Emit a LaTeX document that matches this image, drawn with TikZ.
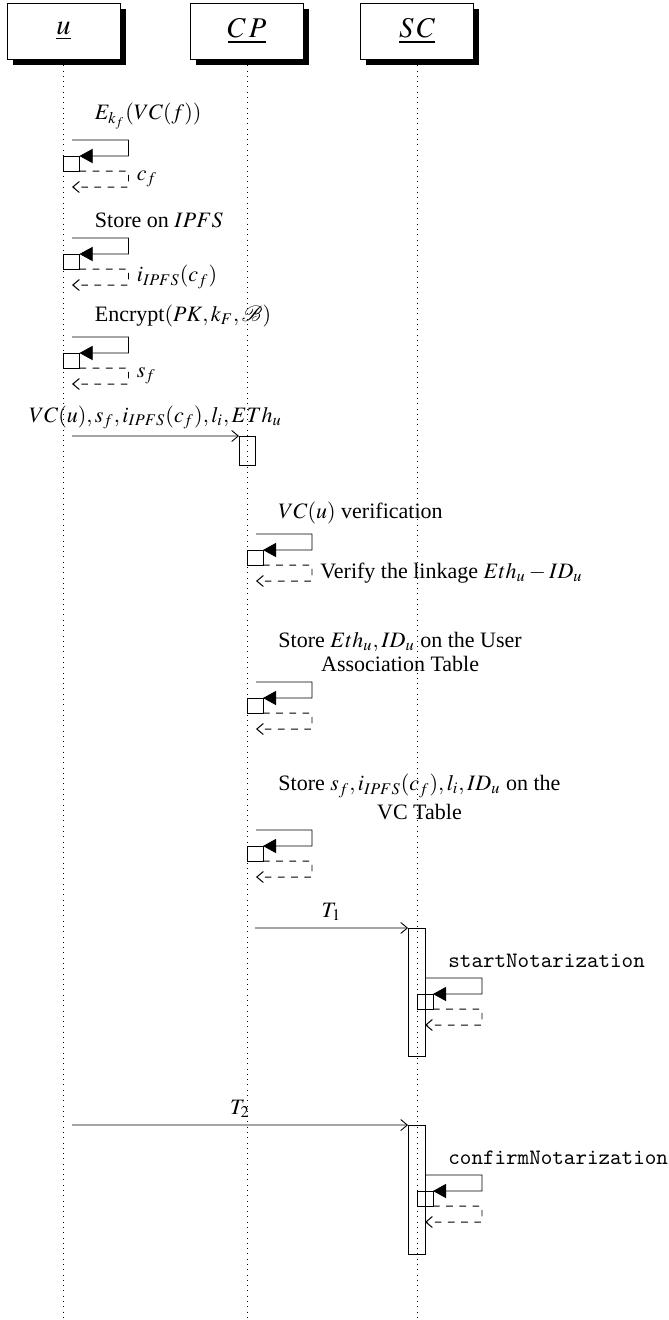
\documentclass[tikz,border=0pt]{standalone}
\usepackage{mathptmx}
\usepackage{fontspec}
\setmainfont{Liberation Serif}
\usetikzlibrary{arrows.meta,shadows}
\tikzset{
  x=0.4545pt, y=-0.4545pt,
  hdr/.style={draw, fill=white, minimum width=51.4pt, minimum height=25.5pt, inner sep=0,
    font=\fontsize{13}{15}\selectfont,
    drop shadow={fill=black, opacity=1, shadow xshift=2.7pt, shadow yshift=-2.7pt}},
  lifeline/.style={dotted},
  actbox/.style={draw, minimum width=7.7pt, inner sep=0, outer sep=0},
  callbox/.style={draw, minimum width=7.27pt, minimum height=6.82pt, inner sep=0, outer sep=0},
  msg/.style={-{Straight Barb[length=3pt,width=5pt]}},
  callarrow/.style={-{Triangle[length=6pt,width=6.5pt]}},
  ret/.style={dashed, line width=0.45pt, -{Straight Barb[length=3pt,width=5pt]}},
  calllabel/.style={anchor=south west, inner sep=0, align=center},
  retlabel/.style={anchor=west, inner sep=0},
  msglabel/.style={above, inner sep=3pt},
}
\newcommand\scall[6]{%
  \coordinate (#1s) at (#3,#4);
  \coordinate (#1r) at (#2+65,#4);
  \coordinate (#1m) at (#2+65,#4+16);
  \node[callbox] (#1b) at (#2+8,#4+23.5) {};
  \coordinate (#1d) at (#2+65,#4+31);
  \coordinate (#1e) at (#2+65,#4+47);
  \coordinate (#1t) at (#3,#4+47);
  \draw[callarrow] (#1s) -- (#1r) -- (#1m) -- (#1b.north east);
  \draw[ret] (#1b.south east) -- (#1d) -- (#1e) -- (#1t);
  \node[calllabel] (#1l) at (#2+31,#4-10) {#5};
  \if\relax\detokenize{#6}\relax\else
    \node[retlabel] (#1rl) at (#2+73,#4+39) {#6};
  \fi
}
\begin{document}
\begin{tikzpicture}
\useasboundingbox (0,0) rectangle (669,1320);
% lifelines
\coordinate (ue) at (63.5,1320);
\coordinate (cpe) at (247,1320);
\coordinate (sce) at (417,1320);
\coordinate (hut) at (63.5,60);
\coordinate (hcpt) at (247,60);
\coordinate (hsct) at (417,60);
\draw[lifeline] (hut) -- (ue);
\draw[lifeline] (hcpt) -- (cpe);
\draw[lifeline] (hsct) -- (sce);
% headers
\node[hdr] (hu) at (63.5,31) {$\underline{u}$};
\node[hdr] (hcp) at (247,31) {$\underline{C\,P}$};
\node[hdr] (hsc) at (417,31) {$\underline{S\,C}$};
% activation boxes
\node[actbox, minimum width=7.27pt, minimum height=13.2pt] (a1) at (247,450.5) {};
\node[actbox, minimum height=58.2pt] (a2) at (416.5,992) {};
\node[actbox, minimum height=58.6pt] (a3) at (416.5,1189.5) {};
% self calls on u
\scall{c1}{63.5}{72}{140}{$E_{k_f}(VC(f))$}{$c_f$}
\scall{c2}{63.5}{72}{238}{Store on $IPFS$}{$i_{IPFS}(c_f)$}
\scall{c3}{63.5}{72}{337}{Encrypt$(PK, k_F, \mathcal{B})$}{$s_f$}
% message u -> CP
\coordinate (m1s) at (72,436);
\draw[msg] (m1s) -- (a1.north west) node[msglabel, midway] {$VC(u), s_f, i_{IPFS}(c_f), l_i, ETh_u$};
% self calls on CP
\scall{c4}{247}{256}{534}{$VC(u)$ verification}{Verify the linkage $Eth_u - ID_u$}
\scall{c5}{247}{256}{682}{Store $Eth_u, ID_u$ on the User\\[-1pt]Association Table}{}
\scall{c6}{247}{256}{830}{Store $s_f, i_{IPFS}(c_f), l_i, ID_u$ on the\\[1pt]VC Table}{}
% CP -> SC
\coordinate (m2s) at (255,928);
\draw[msg] (m2s) -- (a2.north west) node[msglabel, midway] {$T_1$};
\scall{c7}{417}{425}{978}{\texttt{startNotarization}}{}
% u -> SC
\coordinate (m3s) at (72,1125);
\draw[msg] (m3s) -- (a3.north west) node[msglabel, midway] {$T_2$};
\scall{c8}{417}{425}{1175}{\texttt{confirmNotarization}}{}
\end{tikzpicture}
\end{document}
